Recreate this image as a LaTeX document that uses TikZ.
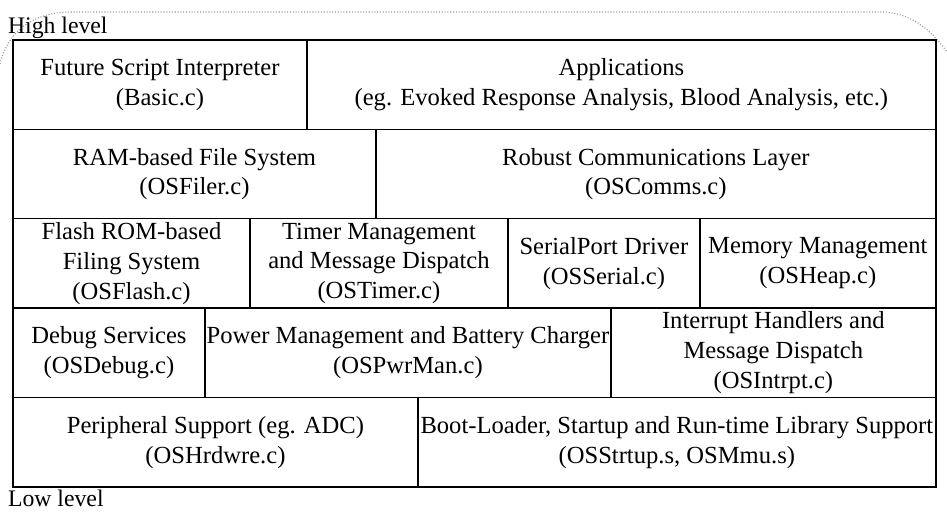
\documentclass[tikz,border=0pt]{standalone}
\usepackage{fontspec}
\setmainfont{Liberation Serif}
\usetikzlibrary{positioning}

\begin{document}
\begin{tikzpicture}[
    x=0.02cm, y=-0.02cm,
    node distance=0pt,
    layer/.style={rectangle, draw=black, line width=0.8pt, outer sep=0pt, inner sep=0pt, align=center, font=\fontsize{14}{17}\selectfont, minimum height=1.788cm},
    levelnote/.style={inner sep=0pt, font=\fontsize{13.5}{16}\selectfont},
    hull/.style={draw=gray!80, densely dotted, line width=0.6pt}
]
    \useasboundingbox (0,0) rectangle (947,511);

    % outline round the top of the stack
    \draw [hull] (0,64) .. controls (8,30) and (35,12) .. (70,12) -- (885,12) .. controls (915,14) and (935,35) .. (947,52);

    % top row
    \node [layer, anchor=north west, minimum width=5.88cm] (basic) at (13,40) {Future Script Interpreter\\(Basic.c)};
    \node [layer, right=of basic, minimum width=12.58cm] (apps) {Applications\\(eg. Evoked Response Analysis, Blood Analysis, etc.)};

    % second row
    \node [layer, below=of basic.south west, anchor=north west, minimum width=7.26cm] (filer) {RAM-based File System\\(OSFiler.c)};
    \node [layer, right=of filer, minimum width=11.2cm] (comms) {Robust Communications Layer\\(OSComms.c)};

    % third row
    \node [layer, below=of filer.south west, anchor=north west, minimum width=4.74cm] (flash) {Flash ROM-based\\Filing System\\(OSFlash.c)};
    \node [layer, right=of flash, minimum width=5.16cm] (timer) {Timer Management\\and Message Dispatch\\(OSTimer.c)};
    \node [layer, right=of timer, minimum width=3.84cm] (serial) {SerialPort Driver\\(OSSerial.c)};
    \node [layer, right=of serial, minimum width=4.72cm] (heap) {Memory Management\\(OSHeap.c)};

    % fourth row
    \node [layer, below=of flash.south west, anchor=north west, minimum width=3.84cm] (debug) {Debug Services\\(OSDebug.c)};
    \node [layer, right=of debug, minimum width=8.12cm] (pwrman) {Power Management and Battery Charger\\(OSPwrMan.c)};
    \node [layer, right=of pwrman, minimum width=6.5cm] (intrpt) {Interrupt Handlers and\\Message Dispatch\\(OSIntrpt.c)};

    % bottom row
    \node [layer, below=of debug.south west, anchor=north west, minimum width=8.1cm] (hrdwre) {Peripheral Support (eg. ADC)\\(OSHrdwre.c)};
    \node [layer, right=of hrdwre, minimum width=10.36cm] (strtup) {Boot-Loader, Startup and Run-time Library Support\\(OSStrtup.s, OSMmu.s)};

    \node [levelnote, above right=0.5pt and -3pt of basic.north west, anchor=south west] (high) {High level};
    \node [levelnote, below right=1.5pt and -3pt of hrdwre.south west, anchor=north west] (low) {Low level};
\end{tikzpicture}
\end{document}
